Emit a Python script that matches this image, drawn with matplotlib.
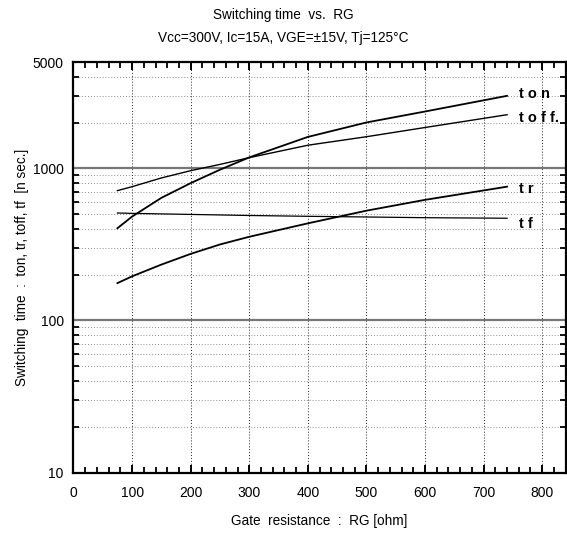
import matplotlib
matplotlib.use('Agg')
import matplotlib.pyplot as plt
import numpy as np
from matplotlib.ticker import FixedLocator, NullFormatter

plt.rcParams['font.family'] = ['Liberation Sans', 'DejaVu Sans']

# values
rg = [75, 100, 150, 200, 250, 300, 400, 500, 600, 740]
ton = [404, 482, 640, 800, 980, 1181, 1610, 2004, 2366, 3000]
toff = [714, 758, 865, 966, 1062, 1176, 1420, 1615, 1857, 2254]
tr = [176, 195, 233, 274, 316, 355, 435, 527, 621, 758]
tf = [509, 506, 502, 498, 494, 490, 484, 479, 474, 470]

x_ticks = [0, 100, 200, 300, 400, 500, 600, 700, 800]
y_ticks = [10, 100, 1000, 5000]

fig = plt.figure(figsize=(5.67, 5.33), dpi=100)
ax = fig.add_axes([0.1296, 0.1135, 0.868, 0.770])
ax.set_yscale('log')
ax.set_xlim(0, 840)
ax.set_ylim(10, 5000)

# grid
minor_y = [m * 10 ** e for e in (1, 2, 3) for m in range(2, 10) if m * 10 ** e < 5000]
for v in minor_y:
    ax.axhline(v, color='#666666', lw=0.6, ls=(0, (1, 2.5)), zorder=1)
for v in (100, 1000):
    ax.axhline(v, color='#777777', lw=1.6, zorder=2)
for v in x_ticks[1:]:
    ax.axvline(v, color='#222222', lw=0.7, ls=(0, (1, 2)), zorder=1)

# curves
ax.plot(rg, ton, color='black', lw=1.3, zorder=3)
ax.plot(rg, toff, color='black', lw=1.0, zorder=3)
ax.plot(rg, tr, color='black', lw=1.3, zorder=3)
ax.plot(rg, tf, color='black', lw=0.9, zorder=3)

lab_kw = dict(fontsize=10.5, fontweight='bold', va='center', ha='left')
ax.text(760, 3100, 't o n', **lab_kw)
ax.text(760, 2150, 't o f f.', **lab_kw)
ax.text(760, 736, 't r', **lab_kw)
ax.text(760, 433, 't f', **lab_kw)

# ticks
ax.xaxis.set_major_locator(FixedLocator(x_ticks))
ax.xaxis.set_minor_locator(FixedLocator(np.arange(0, 841, 20)))
ax.yaxis.set_major_locator(FixedLocator(y_ticks))
ax.yaxis.set_minor_locator(FixedLocator(minor_y))
ax.yaxis.set_minor_formatter(NullFormatter())
ax.set_yticklabels([str(v) for v in y_ticks])
ax.tick_params(which='both', direction='in', top=True, right=True,
               labelsize=10, color='black')
ax.tick_params(which='major', length=6, width=1.4, pad=7)
ax.tick_params(axis='x', which='major', pad=10)
ax.tick_params(which='minor', length=4, width=1.3)
for s in ax.spines.values():
    s.set_linewidth(1.6)

ax.set_xlabel('Gate  resistance  :  RG [ohm]', fontsize=9.8, labelpad=10)
ax.set_ylabel('Switching  time  :  ton, tr, toff, tf  [n sec.]', fontsize=9.8, labelpad=3)

fig.text(0.5, 0.972, 'Switching time  vs.  RG', ha='center', va='center', fontsize=9.8)
fig.text(0.5, 0.929, 'Vcc=300V, Ic=15A, VGE=\u00b115V, Tj=125\u00b0C',
         ha='center', va='center', fontsize=9.8)

fig.savefig('out.png', dpi=100)
